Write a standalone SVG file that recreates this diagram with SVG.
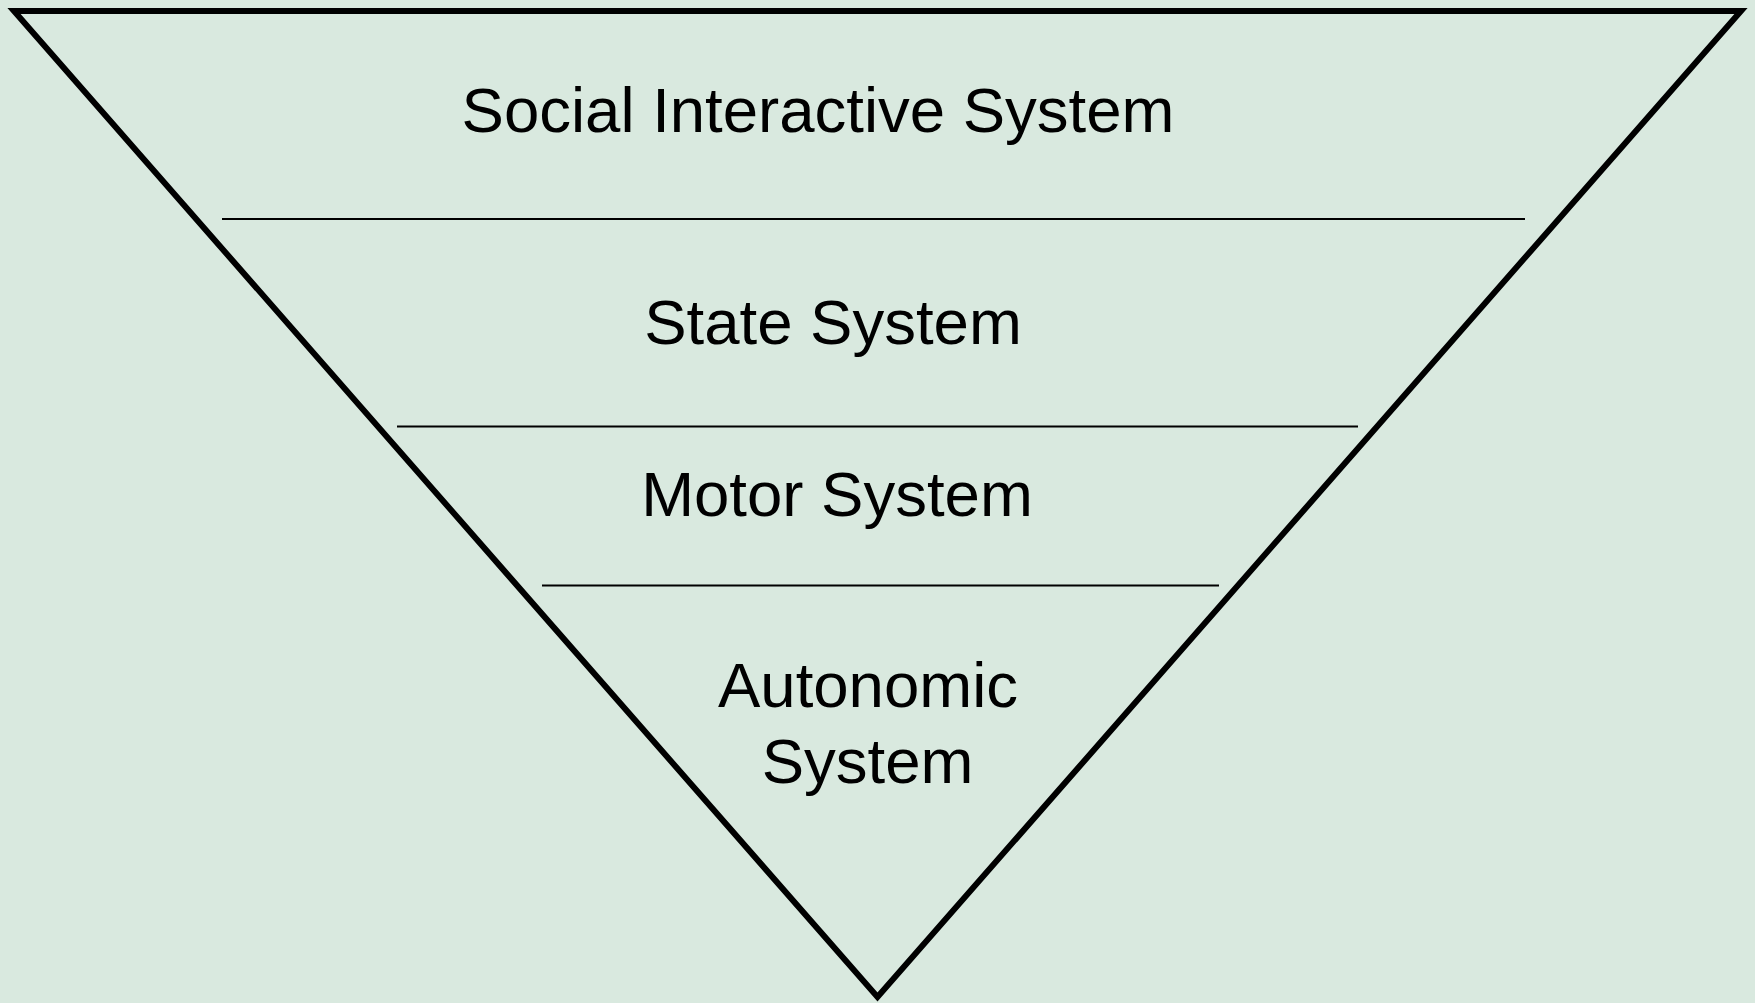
<svg xmlns="http://www.w3.org/2000/svg" width="1755" height="1003" viewBox="0 0 1755 1003">
  <style>
    .label { font-family: "Liberation Sans", Arial, sans-serif; font-size: 63.5px; fill: #000; text-anchor: middle; }
    .divider { stroke: #000; stroke-width: 2; }
    .outline { fill: none; stroke: #000; stroke-width: 6; stroke-linejoin: miter; stroke-miterlimit: 20; }
  </style>
  <rect width="1755" height="1003" fill="#d9e9df"/>

  <!-- inverted pyramid outline -->
  <g id="pyramid">
    <polygon class="outline" points="14,11 1741,11 877.5,997"/>
  </g>

  <!-- layer dividers -->
  <g id="dividers">
    <line class="divider" x1="222" y1="219" x2="1525" y2="219"/>
    <line class="divider" x1="397" y1="426.5" x2="1358" y2="426.5"/>
    <line class="divider" x1="542" y1="585.5" x2="1219" y2="585.5"/>
  </g>

  <g id="social-interactive">
    <text class="label" x="818" y="132">Social Interactive System</text>
  </g>
  <g id="state">
    <text class="label" x="833" y="344">State System</text>
  </g>
  <g id="motor">
    <text class="label" x="837" y="516">Motor System</text>
  </g>
  <g id="autonomic">
    <text class="label" x="868" y="707">Autonomic</text>
    <text class="label" x="867.5" y="783">System</text>
  </g>
</svg>
